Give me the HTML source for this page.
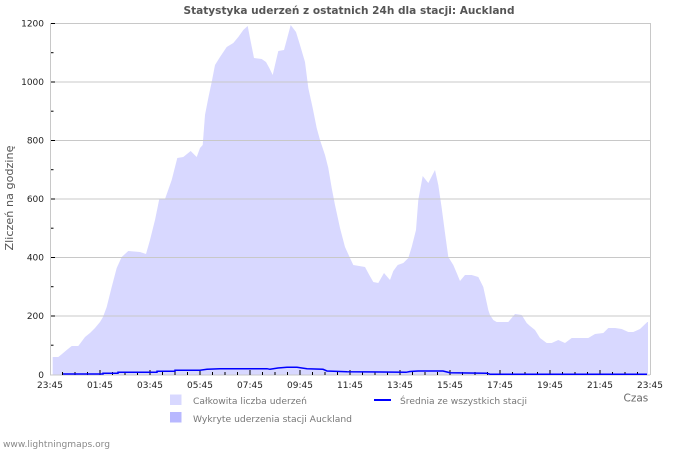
<!DOCTYPE html>
<html><head><meta charset="utf-8"><style>
html,body{margin:0;padding:0;background:#fff;}
svg{display:block;font-family:"DejaVu Sans","Liberation Sans",sans-serif;}
</style></head><body>
<svg width="700" height="450" viewBox="0 0 700 450" xmlns="http://www.w3.org/2000/svg">
<rect width="700" height="450" fill="#fff"/>
<text x="183.5" y="14" font-size="10.5" font-weight="bold" fill="#555" textLength="331" lengthAdjust="spacingAndGlyphs">Statystyka uderzeń z ostatnich 24h dla stacji: Auckland</text>
<!-- area -->
<polygon fill="#d8d8ff" points="52.7,357 58.3,357 62,354 66.7,350 71.7,346 78.3,346 85,337 90,333 95,328 100,322 103,317 106.7,307 111.7,287 116.7,268 121.7,257 128.3,251 140,252 146,254 150,240 155,220 159.3,199 165,199 171.7,180 177.3,158 183.3,157 190.7,151 196.7,157 200,148 202.7,145 205,115 208.3,98 211.7,82 215,65 220,57 226.7,47 233.3,43 238.3,37 243.3,30 247.7,26 250,38 254,58 261.7,59 266,62 269.3,68 272.7,75 275,65 278.3,51 284,50 286.7,40 290.7,25 296,32 300,45 305,62 308.3,88 312.7,108 316.7,128 320,140 325,155 328.3,168 331.7,188 335,205 340,228 345,247 350,258 353.3,265 365,267 369.3,275 373.3,282 378.3,283 384,273 390,280 393.3,271 397.7,265 403.3,263 408.3,258 411.7,247 416,230 418.3,200 422.7,176 428.3,183 435,170 438.3,185 441.7,208 445,233 448.3,257 453.3,265 456.7,273 460,281 465,275 471.7,275 478.3,277 483.3,287 488.3,310 490,315 493.3,320 496.7,322 508.3,322 515,314 521.7,315 526.7,323 530,326 535,330 540,338 546.7,343 551.7,343 558.3,340 565,343 571.7,338 588.3,338 595,334 603.3,333 608.3,328 615,328 621.7,329 628.3,332 633.3,332 640,329 647.3,322 648,322 648,375 52.7,375"/>
<!-- grid -->
<g stroke="#c8c8c8" stroke-width="1">
<line x1="50" y1="23.5" x2="650" y2="23.5"/>
<line x1="50" y1="82" x2="650" y2="82"/>
<line x1="50" y1="140.5" x2="650" y2="140.5"/>
<line x1="50" y1="199" x2="650" y2="199"/>
<line x1="50" y1="257.5" x2="650" y2="257.5"/>
<line x1="50" y1="316" x2="650" y2="316"/>
<line x1="50.5" y1="23" x2="50.5" y2="375"/>
<line x1="650.5" y1="23" x2="650.5" y2="375"/>
<line x1="50" y1="375" x2="650" y2="375"/>
</g>
<!-- y ticks -->
<g stroke="#000" stroke-width="1">
<line x1="51" y1="23.5" x2="55" y2="23.5"/>
<line x1="51" y1="52.7" x2="53.5" y2="52.7"/>
<line x1="51" y1="82" x2="55" y2="82"/>
<line x1="51" y1="111.2" x2="53.5" y2="111.2"/>
<line x1="51" y1="140.5" x2="55" y2="140.5"/>
<line x1="51" y1="169.7" x2="53.5" y2="169.7"/>
<line x1="51" y1="199" x2="55" y2="199"/>
<line x1="51" y1="228.2" x2="53.5" y2="228.2"/>
<line x1="51" y1="257.5" x2="55" y2="257.5"/>
<line x1="51" y1="286.7" x2="53.5" y2="286.7"/>
<line x1="51" y1="316" x2="55" y2="316"/>
<line x1="51" y1="345.2" x2="53.5" y2="345.2"/>
</g>
<g font-size="9" fill="#222" text-anchor="end">
<text x="44" y="26.5">1200</text>
<text x="44" y="85">1000</text>
<text x="44" y="143.5">800</text>
<text x="44" y="202">600</text>
<text x="44" y="260.5">400</text>
<text x="44" y="319">200</text>
<text x="44" y="378">0</text>
</g>
<!-- x ticks -->
<g stroke="#000" stroke-width="1">
<path d="M62.5,375v-3M75,375v-3M87.5,375v-3M100,375v-5M112.5,375v-3M125,375v-3M137.5,375v-3M150,375v-5M162.5,375v-3M175,375v-3M187.5,375v-3M200,375v-5M212.5,375v-3M225,375v-3M237.5,375v-3M250,375v-5M262.5,375v-3M275,375v-3M287.5,375v-3M300,375v-5M312.5,375v-3M325,375v-3M337.5,375v-3M350,375v-5M362.5,375v-3M375,375v-3M387.5,375v-3M400,375v-5M412.5,375v-3M425,375v-3M437.5,375v-3M450,375v-5M462.5,375v-3M475,375v-3M487.5,375v-3M500,375v-5M512.5,375v-3M525,375v-3M537.5,375v-3M550,375v-5M562.5,375v-3M575,375v-3M587.5,375v-3M600,375v-5M612.5,375v-3M625,375v-3M637.5,375v-3"/>
</g>
<!-- avg line -->
<polyline fill="none" stroke="#0000ff" stroke-width="1.5" points="63,374 103,374 103,373.3 118,373.3 118,372.3 157,372.3 157,371.3 175,371.3 175,370.3 200,370.3 207,369.3 220,368.7 267,368.7 270,369.3 278,368 287,367.3 297,367.3 307,368.7 323,369.3 327,371 347,371.7 406,372.3 410,371.5 418,371 443,371 450,372.7 487,373.3 490,374.2 647,374.2"/>
<g font-size="9" fill="#222" text-anchor="middle">
<text x="50" y="388">23:45</text>
<text x="100" y="388">01:45</text>
<text x="150" y="388">03:45</text>
<text x="200" y="388">05:45</text>
<text x="250" y="388">07:45</text>
<text x="300" y="388">09:45</text>
<text x="350" y="388">11:45</text>
<text x="400" y="388">13:45</text>
<text x="450" y="388">15:45</text>
<text x="500" y="388">17:45</text>
<text x="550" y="388">19:45</text>
<text x="600" y="388">21:45</text>
<text x="650" y="388">23:45</text>
</g>
<text transform="translate(13,198) rotate(-90)" font-size="10.5" fill="#555" text-anchor="middle" textLength="105" lengthAdjust="spacingAndGlyphs">Zliczeń na godzinę</text>
<text x="623.5" y="401.5" font-size="10.5" fill="#666">Czas</text>
<!-- legend -->
<rect x="170" y="394.5" width="11.5" height="10.5" fill="#d8d8ff"/>
<rect x="170" y="412" width="11.5" height="10.5" fill="#b8b8ff"/>
<line x1="374" y1="400" x2="391" y2="400" stroke="#0000ff" stroke-width="2"/>
<g font-size="9" fill="#777">
<text x="193" y="404" textLength="114" lengthAdjust="spacingAndGlyphs">Całkowita liczba uderzeń</text>
<text x="193" y="422" textLength="159" lengthAdjust="spacingAndGlyphs">Wykryte uderzenia stacji Auckland</text>
<text x="400" y="404" textLength="127" lengthAdjust="spacingAndGlyphs">Średnia ze wszystkich stacji</text>
</g>
<text x="3" y="447" font-size="9" fill="#888" textLength="107" lengthAdjust="spacingAndGlyphs">www.lightningmaps.org</text>
</svg>
</body></html>
